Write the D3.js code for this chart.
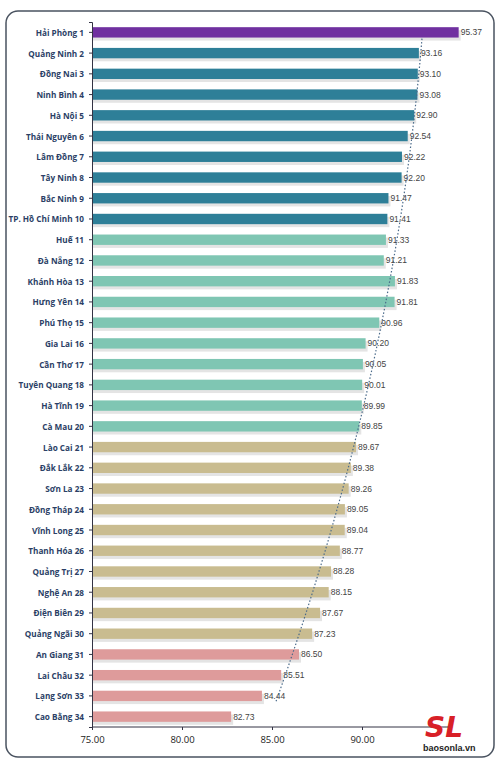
<!DOCTYPE html>
<html><head><meta charset="utf-8">
<script src="https://cdn.jsdelivr.net/npm/d3@7"></script>
<style>body{margin:0;background:#fff}</style>
</head><body>
<div id="view"></div>
<script>
var provinces = ["Hải Phòng","Quảng Ninh","Đồng Nai","Ninh Bình","Hà Nội","Thái Nguyên","Lâm Đồng","Tây Ninh","Bắc Ninh","TP. Hồ Chí Minh","Huế","Đà Nẵng","Khánh Hòa","Hưng Yên","Phú Thọ","Gia Lai","Cần Thơ","Tuyên Quang","Hà Tĩnh","Cà Mau","Lào Cai","Đắk Lắk","Sơn La","Đồng Tháp","Vĩnh Long","Thanh Hóa","Quảng Trị","Nghệ An","Điện Biên","Quảng Ngãi","An Giang","Lai Châu","Lạng Sơn","Cao Bằng"];
var scores = [95.37,93.16,93.10,93.08,92.90,92.54,92.22,92.20,91.47,91.41,91.33,91.21,91.83,91.81,90.96,90.20,90.05,90.01,89.99,89.85,89.67,89.38,89.26,89.05,89.04,88.77,88.28,88.15,87.67,87.23,86.50,85.51,84.44,82.73];
var groups = [0,1,1,1,1,1,1,1,1,1,2,2,2,2,2,2,2,2,2,2,3,3,3,3,3,3,3,3,3,3,4,4,4,4];
var groupColors = ["#7030a0","#2e7f98","#7fc6b3","#c9bc90","#de9b9b"];
var ticks = [75,80,85,90];

var svg = d3.select("#view").append("svg").attr("width",500).attr("height",765);
svg.append("rect").attr("x",6).attr("y",11).attr("width",488).attr("height",746)
  .attr("rx",12).attr("fill","#fff").attr("stroke","#4a5360").attr("stroke-width",1.5);

var x = d3.scaleLinear().domain([75,95]).range([92,452]);
var y = d3.scaleBand().domain(d3.range(provinces.length)).range([22,727]).paddingInner(0.5).paddingOuter(0.25);

svg.selectAll(".shadow").data(scores).enter().append("rect")
  .attr("x",x(75)).attr("y",function(d,i){return y(i)+3;})
  .attr("width",function(d){return x(d)-x(75)+2;}).attr("height",y.bandwidth())
  .attr("fill","#e4e4e4");
svg.selectAll(".bar").data(scores).enter().append("rect")
  .attr("x",x(75)).attr("y",function(d,i){return y(i);})
  .attr("width",function(d){return x(d)-x(75);}).attr("height",y.bandwidth())
  .attr("fill",function(d,i){return groupColors[groups[i]];});

svg.selectAll(".val").data(scores).enter().append("text")
  .attr("x",function(d){return x(d)+2;}).attr("y",function(d,i){return y(i)+y.bandwidth()/2+3;})
  .attr("font-family","Liberation Sans Narrow, Liberation Sans, sans-serif").attr("font-size",8.5)
  .attr("fill","#444").text(function(d){return d.toFixed(2);});

svg.selectAll(".lab").data(provinces).enter().append("text")
  .attr("x",84).attr("y",function(d,i){return y(i)+y.bandwidth()/2+3.5;})
  .attr("text-anchor","end").attr("font-family","Open Sans, sans-serif").attr("font-weight","bold")
  .attr("font-size",8.2).attr("fill","#2b3f66").text(function(d,i){return d+" "+(i+1);});

// quadratic trend fit of score vs rank
var n = scores.length, S = [0,0,0,0,0], T = [0,0,0];
scores.forEach(function(v,i){var p=1;for(var k=0;k<5;k++){S[k]+=p;if(k<3)T[k]+=v*p;p*=i;}});
function solve(A,b){A=A.map(function(r,i){return r.concat([b[i]]);});
  for(var i=0;i<3;i++){for(var j=i+1;j<3;j++){var f=A[j][i]/A[i][i];for(var k=i;k<4;k++)A[j][k]-=f*A[i][k];}}
  var s=[0,0,0];for(i=2;i>=0;i--){var t=A[i][3];for(j=i+1;j<3;j++)t-=A[i][j]*s[j];s[i]=t/A[i][i];}return s;}
var c = solve([[S[0],S[1],S[2]],[S[1],S[2],S[3]],[S[2],S[3],S[4]]],T);
var fitRows = d3.range(0.3, n-1.5, 0.25);
var line = d3.line()
  .x(function(r){return x(c[0]+c[1]*r+c[2]*r*r);})
  .y(function(r){return y(0)+y.bandwidth()/2+r*y.step();});
svg.append("path").datum(fitRows).attr("d",line).attr("fill","none")
  .attr("stroke","#4a6a8a").attr("stroke-width",1.2).attr("stroke-dasharray","1.5,2");

var ga = svg.append("g").attr("transform","translate("+x(75)+",0)").call(d3.axisLeft(y).tickFormat("").tickSize(3));
ga.selectAll("line,path").attr("stroke","#334");
svg.append("line").attr("x1",x(75)).attr("x2",x(95)).attr("y1",727).attr("y2",727).attr("stroke","#334");
var xa = svg.append("g").attr("transform","translate(0,727)").call(d3.axisBottom(x).tickValues(ticks).tickSize(3).tickFormat(d3.format(".2f")));
xa.select(".domain").remove();
xa.selectAll("line").attr("stroke","#334");
xa.selectAll("text").attr("font-family","Open Sans, sans-serif").attr("font-size",9.5).attr("fill","#222").attr("dy","1.1em");

var lg = svg.append("g").attr("transform","translate(425,715)");
lg.append("text").attr("x",0).attr("y",22).attr("font-family","DejaVu Sans, sans-serif").attr("font-weight","bold")
  .attr("font-style","italic").attr("font-size",28).attr("fill","#d82027").text("SL");
lg.append("text").attr("x",-2).attr("y",36).attr("font-family","Liberation Sans, sans-serif").attr("font-weight","bold")
  .attr("font-size",9).attr("fill","#222").text("baosonla.vn");
</script>
</body></html>
